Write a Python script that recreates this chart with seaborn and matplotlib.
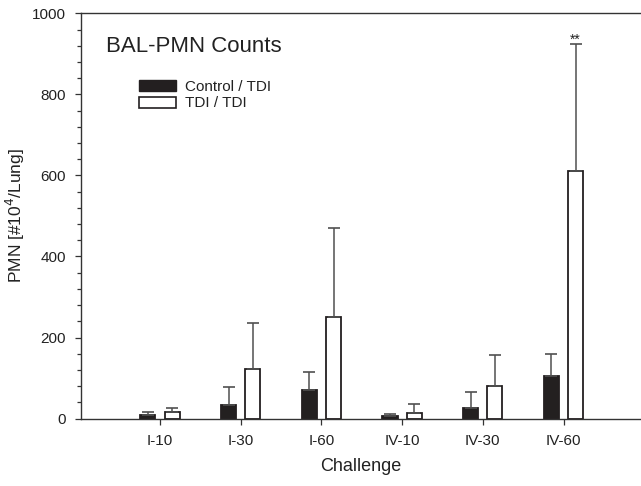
import numpy as np
import pandas as pd
import matplotlib
matplotlib.use("Agg")
import matplotlib.pyplot as plt
import seaborn as sns
from matplotlib.patches import Patch
from matplotlib.ticker import MultipleLocator

categories = ["I-10", "I-30", "I-60", "IV-10", "IV-30", "IV-60"]
groups = ["Control / TDI", "TDI / TDI"]
control_vals = [9, 33, 71, 6, 25, 105]
control_err = [7, 46, 45, 5, 41, 54]
tdi_vals = [16, 122, 251, 15, 80, 611]
tdi_err = [11, 113, 219, 20, 76, 313]

df = pd.DataFrame({
    "Challenge": categories * 2,
    "Group": [groups[0]] * len(categories) + [groups[1]] * len(categories),
    "PMN": control_vals + tdi_vals,
    "err": control_err + tdi_err,
})

sns.set_theme(style="ticks")
plt.rcParams["font.family"] = ["Liberation Sans", "DejaVu Sans"]

fig = plt.figure(figsize=(6.41, 4.86), dpi=100)
ax = fig.add_axes([0.1256, 0.1387, 0.8744, 0.8339])

dark = "#231f20"
palette = {groups[0]: dark, groups[1]: "white"}
sns.barplot(data=df, x="Challenge", y="PMN", hue="Group", order=categories,
            hue_order=groups, palette=palette, width=0.6, gap=0.377,
            errorbar=None, edgecolor=dark, linewidth=1.3, ax=ax, legend=False)

# error bars (upper only)
for container, g in zip(ax.containers, groups):
    sub = df[df["Group"] == g].set_index("Challenge").loc[categories]
    xs = [p.get_x() + p.get_width() / 2 for p in container.patches]
    ax.errorbar(xs, sub["PMN"].values, yerr=[np.zeros(len(xs)), sub["err"].values],
                fmt="none", ecolor="#505050", elinewidth=1.1, capsize=4.6,
                capthick=1.2, zorder=1)

last = ax.containers[1].patches[-1]
ax.text(last.get_x() + last.get_width() / 2, tdi_vals[-1] + tdi_err[-1], "**",
        ha="center", va="baseline", fontsize=10, color="#222222")

ax.set_xlim(-0.985, 5.96)
ax.set_ylim(0, 1000)
ax.yaxis.set_major_locator(MultipleLocator(200))
ax.yaxis.set_minor_locator(MultipleLocator(40))
ax.tick_params(axis="y", which="major", length=4.5, width=0.9, labelsize=11,
               pad=6, color="#333333", labelcolor="#222222")
ax.tick_params(axis="y", which="minor", length=3, width=0.9, color="#333333")
ax.tick_params(axis="x", length=4, width=0.9, labelsize=11, pad=7,
               color="#333333", labelcolor="#222222")

ax.spines["right"].set_visible(False)
for s in ["left", "top", "bottom"]:
    ax.spines[s].set_linewidth(1.0)
    ax.spines[s].set_color("#333333")

ax.set_xlabel("Challenge", fontsize=13, labelpad=7, color="#222222")
ax.set_ylabel(r"PMN [#10$^{4}$/Lung]", fontsize=12.5, color="#222222")
ax.yaxis.set_label_coords(-0.095, 0.5)

ax.text(0.0456, 0.9038, "BAL-PMN Counts", transform=ax.transAxes, fontsize=16,
        va="baseline", ha="left", color="#222222")

handles = [Patch(facecolor=dark, edgecolor=dark, linewidth=1.0),
           Patch(facecolor="white", edgecolor=dark, linewidth=1.2)]
ax.legend(handles, groups, loc="upper left", bbox_to_anchor=(0.1046, 0.835),
          frameon=False, fontsize=11, handlelength=2.42, handleheight=0.72,
          handletextpad=0.59, labelspacing=0.15, borderaxespad=0, borderpad=0,
          labelcolor="#222222")

fig.savefig("out.png", dpi=100)
